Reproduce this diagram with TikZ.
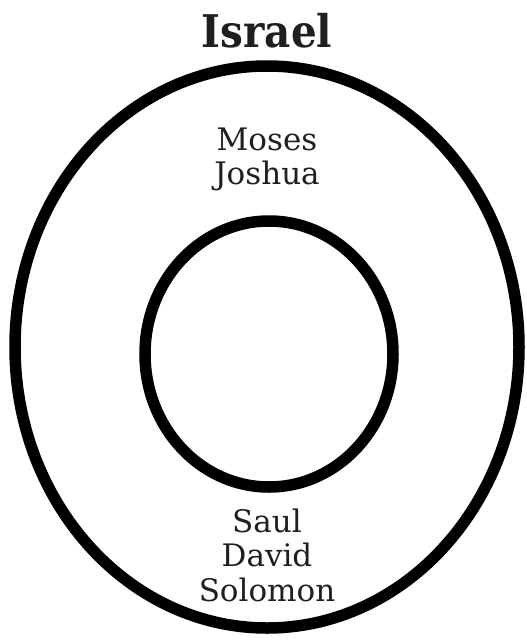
\documentclass[tikz,border=0pt]{standalone}
\usepackage{fontspec}
\setmainfont{DejaVu Serif}
\newfontfamily\condfont{DejaVu Serif Condensed}
\begin{document}
\begin{tikzpicture}[x=1pt,y=-1pt,
  ring/.style={draw=black,line width=11.5pt},
  lbl/.style={font=\fontsize{31}{34.5}\selectfont,text=black!88,anchor=base,inner sep=0pt},
  ttl/.style={font=\condfont\bfseries\fontsize{45}{48}\selectfont,text=black!88,anchor=base,inner sep=0pt}]
\useasboundingbox[fill=white] (0,0) rectangle (527,640);
\draw[ring] (267,347) ellipse [x radius=252,y radius=281];
\draw[ring] (269,354) ellipse [x radius=124,y radius=133];
\node[ttl] (title) at (267,47) {Israel};
\node[lbl] (m1) at (267,150) {Moses};
\node[lbl] (m2) at (267,184) {Joshua};
\node[lbl] (s1) at (267,532) {Saul};
\node[lbl] (s2) at (267,566) {David};
\node[lbl] (s3) at (267,601) {Solomon};
\end{tikzpicture}
\end{document}
